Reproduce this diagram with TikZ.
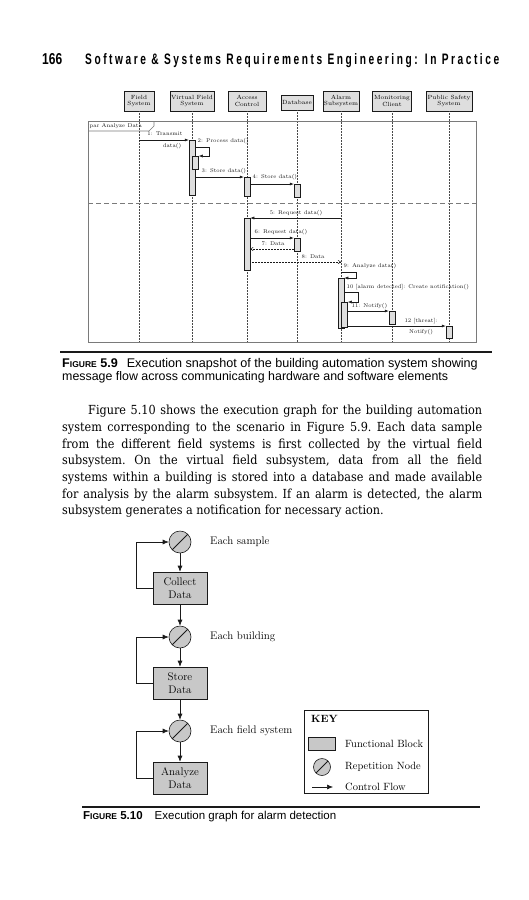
\documentclass[tikz,border=0pt]{standalone}
\usepackage{fontspec}
\newfontfamily\bodyfont[FakeStretch=0.9]{DejaVu Serif}
\newfontfamily\capfont{Liberation Sans}
\newfontfamily\headfont[LetterSpace=25]{Liberation Sans}
\usetikzlibrary{arrows.meta,positioning,calc}
\definecolor{pageInk}{HTML}{1A1A1A}
\definecolor{blockGray}{HTML}{C8C8C8}
\definecolor{actGray}{HTML}{DEDEDE}
\definecolor{frameGray}{HTML}{7A7A7A}
\newcommand\figtag[1]{\textbf{F{\fontsize{8.5}{9}\selectfont IGURE} #1}}
\tikzset{
    >=Latex,
    lifehead/.style={draw=pageInk, fill=actGray, line width=0.5pt, font=\fontsize{6}{6.5}\selectfont, align=center, inner sep=1pt, minimum height=20pt},
    activ/.style={draw=pageInk, fill=actGray, line width=0.5pt, minimum width=6pt, inner sep=0pt, anchor=north},
    lifeline/.style={densely dotted, line width=0.5pt, draw=pageInk!80},
    msg/.style={-{Latex[length=4pt,width=3pt]}, line width=0.5pt, draw=pageInk},
    retmsg/.style={-{Straight Barb[length=2.5pt,width=3.5pt]}, densely dotted, line width=0.5pt, draw=pageInk},
    msglabel/.style={font=\fontsize{5.5}{6}\selectfont, inner sep=0.5pt, text=pageInk},
    fblock/.style={draw=pageInk, fill=blockGray, line width=0.6pt, minimum width=54pt, minimum height=32pt, align=center, font=\fontsize{11}{12.5}\selectfont},
    repnode/.style={circle, draw=pageInk, fill=blockGray, line width=0.6pt, minimum size=22pt, inner sep=0pt, path picture={\draw[line width=0.8pt] (path picture bounding box.south west) -- (path picture bounding box.north east);}},
    flow/.style={-{Latex[length=6pt,width=5pt]}, line width=0.6pt, draw=pageInk},
    graphlabel/.style={font=\fontsize{11}{12}\selectfont, anchor=west, inner sep=0pt},
    keytext/.style={font=\fontsize{10.5}{12}\selectfont, anchor=west, inner sep=0pt},
    captext/.style={font=\capfont\fontsize{11.5}{13}\selectfont, anchor=base west, inner sep=0pt}
}
\begin{document}
\begin{tikzpicture}[x=1pt, y=-1pt]
\fill[white] (0,0) rectangle (528,900);
\useasboundingbox (0,0) rectangle (528,900);

% running head
\node[anchor=base west, inner sep=0pt] (pagenum) at (42,64) {\resizebox{20pt}{11pt}{\capfont\bfseries 166}};
\node[anchor=base west, inner sep=0pt] (runhead) at (85,64) {\resizebox{414pt}{11pt}{\headfont\bfseries Software \& Systems Requirements Engineering: In Practice}};

% sequence diagram
\node[lifehead, minimum width=30pt] (fs) at (139,101) {Field\\System};
\node[lifehead, minimum width=42pt] (vfs) at (192,101) {Virtual Field\\System};
\node[lifehead, minimum width=38pt] (ac) at (247,101) {Access\\Control};
\node[lifehead, minimum width=31pt, minimum height=15pt] (db) at (297,102.5) {Database};
\node[lifehead, minimum width=33pt] (al) at (341,101) {Alarm\\Subsystem};
\node[lifehead, minimum width=39pt] (mc) at (392,101) {Monitoring\\Client};
\node[lifehead, minimum width=46pt] (ps) at (449,101) {Public Safety\\System};
\coordinate (frameNW) at (88,121);
\coordinate (frameSE) at (476,342);
\foreach \n in {fs,vfs,ac,db,al,mc,ps}
  \draw[lifeline] (\n.south) -- (\n.south |- frameSE);
\draw[frameGray, line width=0.7pt] (frameNW) rectangle (frameSE);
\draw[frameGray, line width=0.6pt] (88,131) -- (149,131) -- (154,126) -- (154,121);
\node[msglabel, anchor=west] (frametag) at (89,126) {par Analyze Data};
\draw[frameGray, line width=0.7pt, dash pattern=on 5pt off 3pt] (frameNW |- 0,203) -- (frameSE |- 0,203);

\node[activ, minimum height=55pt] (vfsA) at (vfs.south |- 0,140) {};
\node[activ, minimum height=13pt] (vfsB) at ($(vfs.south |- 0,156)+(3.5,0)$) {};
\node[activ, minimum height=19pt] (acA) at (ac.south |- 0,177) {};
\node[activ, minimum height=13pt] (dbA) at (db.south |- 0,184) {};
\node[activ, minimum height=52pt] (acB) at (ac.south |- 0,218) {};
\node[activ, minimum height=13pt] (dbB) at (db.south |- 0,238) {};
\node[activ, minimum height=50pt] (alA) at (al.south |- 0,278) {};
\node[activ, minimum height=25pt] (alB) at ($(al.south |- 0,302)+(3.5,0)$) {};
\node[activ, minimum height=13pt] (mcA) at (mc.south |- 0,311) {};
\node[activ, minimum height=12pt] (psA) at (ps.south |- 0,326) {};

\draw[msg] (fs.south |- vfsA.north) -- (vfsA.north west);
\node[msglabel] (m1a) at (165,134) {1: Transmit};
\node[msglabel] (m1b) at (172,146) {data()};
\draw[msg] ([yshift=-7pt]vfsA.north east) -- ++(14,0) |- (vfsB.north east);
\node[msglabel, anchor=west] (m2) at (197,141) {2: Process data()};
\draw[msg] (vfsA.east |- acA.north) -- (acA.north west);
\node[msglabel, anchor=west] (m3) at (201,171) {3: Store data()};
\draw[msg] (acA.east |- dbA.north) -- (dbA.north west);
\node[msglabel, anchor=west] (m4) at (252,177) {4: Store data()};
\draw[msg] (al.south |- acB.north) -- (acB.north east);
\node[msglabel] (m5) at (296,213) {5: Request data()};
\draw[msg] (acB.east |- dbB.north) -- (dbB.north west);
\node[msglabel, anchor=west] (m6) at (254,232) {6: Request data()};
\draw[retmsg] (dbB.west |- 0,249) -- (acB.east |- 0,249);
\node[msglabel, anchor=west] (m7) at (261,244) {7: Data};
\draw[retmsg] (acB.east |- 0,262) -- (al.south |- 0,262);
\node[msglabel, anchor=west] (m8) at (301,257) {8: Data};
\draw[msg] (al.south |- 0,272) -- ++(15,0) |- (alA.north east);
\node[msglabel, anchor=west] (m9) at (343,266) {9: Analyze data()};
\draw[msg] (alA.east |- 0,292) -- ++(14,0) |- (alB.north east);
\node[msglabel, anchor=west] (m10) at (346,287) {10 [alarm detected]: Create notification()};
\draw[msg] (alB.east |- mcA.north) -- (mcA.north west);
\node[msglabel, anchor=west] (m11) at (351,306) {11: Notify()};
\draw[msg] (alB.east |- psA.north) -- (psA.north west);
\node[msglabel] (m12a) at (421,321) {12 [threat]:};
\node[msglabel] (m12b) at (421,332) {Notify()};

% caption 5.9
\draw[pageInk, line width=1.2pt] (60,352) -- (492,352);
\node[captext, font=\capfont\fontsize{12.6}{13}\selectfont] (cap59a) at (62,367) {\figtag{5.9}\hspace{9pt}Execution snapshot of the building automation system showing};
\node[captext, font=\capfont\fontsize{12.4}{13}\selectfont] (cap59b) at (62,380) {message flow across communicating hardware and software elements};

% body text
\node[anchor=north west, text width=420pt, inner sep=0pt, align=justify, font=\bodyfont\fontsize{12.5}{16.7}\selectfont\frenchspacing] (para) at (62,405) {\hyphenpenalty=10000\relax\hspace*{26pt}Figure 5.10 shows the execution graph for the building automation\linebreak system corresponding to the scenario in Figure 5.9. Each data sample\linebreak from the different field systems is first collected by the virtual field\linebreak subsystem. On the virtual field subsystem, data from all the field\linebreak systems within a building is stored into a database and made available\linebreak for analysis by the alarm subsystem. If an alarm is detected, the alarm\linebreak subsystem generates a notification for necessary action.};

% execution graph
\node[repnode] (rep1) at (180,542) {};
\node[fblock] (collect) at (180,588) {Collect\\Data};
\node[repnode] (rep2) at (180,637) {};
\node[fblock] (store) at (180,683) {Store\\Data};
\node[repnode] (rep3) at (180,731) {};
\node[fblock] (analyze) at (180,778) {Analyze\\Data};
\node[graphlabel] (lab1) at (210,542) {Each sample};
\node[graphlabel] (lab2) at (210,637) {Each building};
\node[graphlabel] (lab3) at (210,731) {Each field system};
\draw[flow] (rep1) -- (collect);
\draw[flow] (collect) -- (rep2);
\draw[flow] (rep2) -- (store);
\draw[flow] (store) -- (rep3);
\draw[flow] (rep3) -- (analyze);
\draw[flow] (collect.west) -- ++(-16,0) |- (rep1.west);
\draw[flow] (store.west) -- ++(-16,0) |- (rep2.west);
\draw[flow] (analyze.west) -- ++(-16,0) |- (rep3.west);

% key
\node[draw=pageInk, line width=0.6pt, minimum width=124pt, minimum height=83pt, anchor=north west] (key) at (304,710) {};
\node[keytext, font=\fontsize{10.5}{12}\selectfont\bfseries] (keytitle) at (311,719) {KEY};
\node[draw=pageInk, fill=blockGray, line width=0.6pt, minimum width=27pt, minimum height=13pt] (keyblock) at (321.5,743.5) {};
\node[repnode, minimum size=17pt] (keyrep) at (322,767) {};
\coordinate (keyflowA) at (312,787);
\coordinate (keyflowB) at (333,787);
\draw[flow] (keyflowA) -- (keyflowB);
\node[keytext] (keyt1) at (345,744) {Functional Block};
\node[keytext] (keyt2) at (345,767) {Repetition Node};
\node[keytext] (keyt3) at (345,787) {Control Flow};

% caption 5.10
\draw[pageInk, line width=1.2pt] (82,807) -- (480,807);
\node[captext] (cap510) at (83,819) {\figtag{5.10}\hspace{12pt}Execution graph for alarm detection};
\end{tikzpicture}
\end{document}
